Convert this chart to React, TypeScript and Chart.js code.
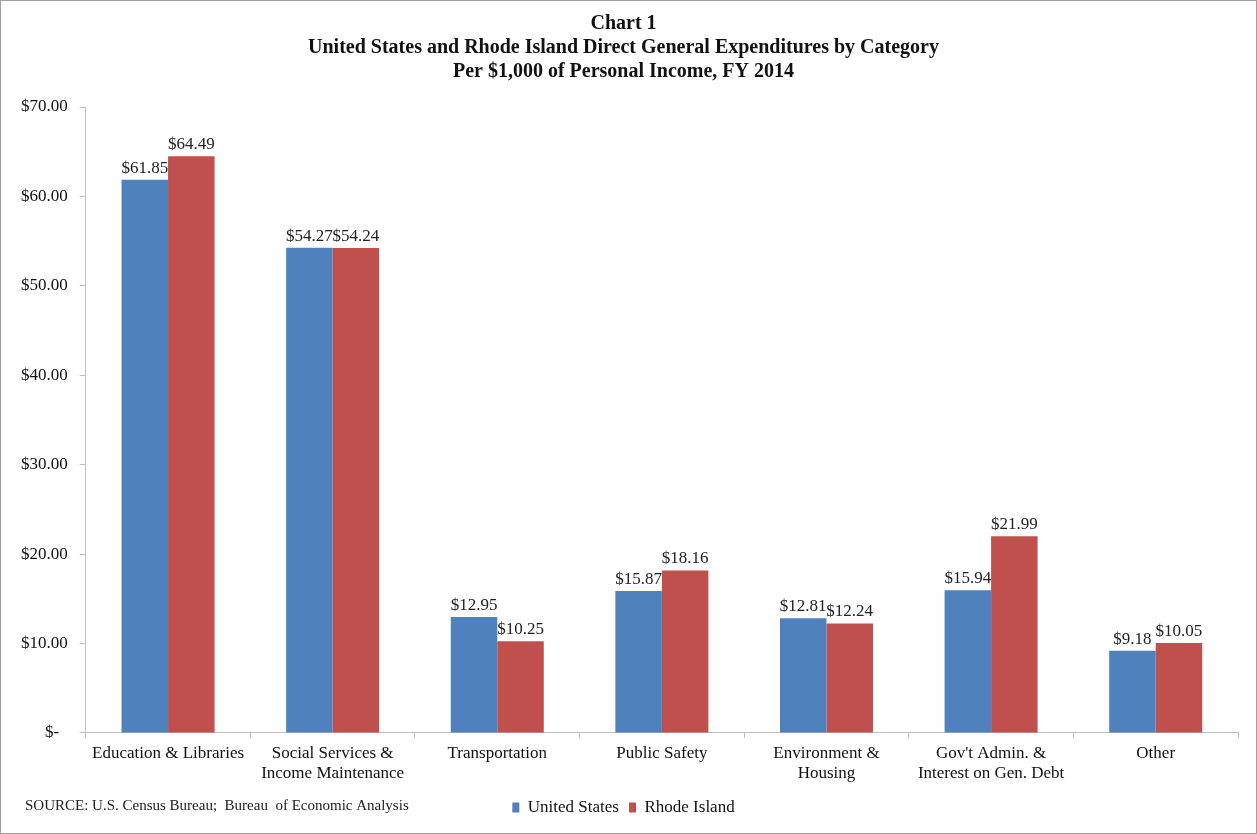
import { useEffect, useRef } from 'react';
import { Chart, registerables } from 'chart.js';

Chart.register(...registerables);

const CATEGORIES = [
  'Education & Libraries',
  ['Social Services &', 'Income Maintenance'],
  'Transportation',
  'Public Safety',
  ['Environment &', 'Housing'],
  ["Gov't Admin. &", 'Interest on Gen. Debt'],
  'Other',
];
const US_VALUES = [61.85, 54.27, 12.95, 15.87, 12.81, 15.94, 9.18];
const RI_VALUES = [64.49, 54.24, 10.25, 18.16, 12.24, 21.99, 10.05];
const TITLE = [
  'Chart 1',
  'United States and Rhode Island Direct General Expenditures by Category',
  'Per $1,000 of Personal Income, FY 2014',
];
const SOURCE = 'SOURCE: U.S. Census Bureau;  Bureau  of Economic Analysis';

const FONT = "'Liberation Serif', 'Times New Roman', serif";
const AXIS_GRAY = '#bfbfbf';

const money = (v: number) => (v === 0 ? '$-  ' : '$' + v.toFixed(2));

// value labels above bars + source note
const labelsPlugin = {
  id: 'barLabels',
  afterDatasetsDraw(chart: Chart) {
    const ctx = chart.ctx;
    ctx.save();
    ctx.font = `17px ${FONT}`;
    ctx.fillStyle = '#222';
    ctx.textAlign = 'center';
    ctx.textBaseline = 'bottom';
    chart.data.datasets.forEach((ds, i) => {
      chart.getDatasetMeta(i).data.forEach((bar: any, j) => {
        ctx.fillText(money(ds.data[j] as number), bar.x, bar.y - 3);
      });
    });
    ctx.textAlign = 'left';
    ctx.textBaseline = 'middle';
    ctx.font = `15px ${FONT}`;
    ctx.fillText(SOURCE, 24, 805);
    ctx.restore();
  },
};

export default function App() {
  const canvasRef = useRef<HTMLCanvasElement>(null);

  useEffect(() => {
    document.body.style.margin = '0';
    if (!canvasRef.current) return;
    const chart = new Chart(canvasRef.current, {
      type: 'bar',
      data: {
        labels: CATEGORIES,
        datasets: [
          { label: 'United States', data: US_VALUES, backgroundColor: '#4f81bd', categoryPercentage: 0.565, barPercentage: 1 },
          { label: 'Rhode Island', data: RI_VALUES, backgroundColor: '#c0504d', categoryPercentage: 0.565, barPercentage: 1 },
        ],
      },
      options: {
        responsive: false,
        animation: false,
        layout: { padding: { left: 8, right: 18, top: 7, bottom: 7 } },
        plugins: {
          title: {
            display: true,
            text: TITLE,
            color: '#111',
            font: { family: FONT, size: 20, weight: 'bold', lineHeight: 1.2 },
            padding: { top: 4, bottom: 23 },
          },
          legend: {
            position: 'bottom',
            labels: {
              color: '#111',
              font: { family: FONT, size: 17 },
              boxWidth: 7,
              boxHeight: 10,
              padding: 10,
            },
          },
          tooltip: { enabled: false },
        },
        scales: {
          x: {
            grid: { drawOnChartArea: false, drawTicks: true, tickLength: 5, color: AXIS_GRAY },
            border: { color: AXIS_GRAY },
            ticks: { color: '#111', font: { family: FONT, size: 17, lineHeight: 1.15 }, padding: 6, maxRotation: 0 },
          },
          y: {
            min: 0,
            max: 70,
            grid: { drawOnChartArea: false, drawTicks: true, tickLength: 6, color: AXIS_GRAY },
            border: { color: AXIS_GRAY },
            ticks: { stepSize: 10, color: '#111', font: { family: FONT, size: 17 }, padding: 12, callback: (v: any) => money(Number(v)) },
          },
        },
      },
      plugins: [labelsPlugin],
    });
    return () => chart.destroy();
  }, []);

  return (
    <div style={{ width: 1257, height: 834, border: '1px solid #a0a0a0', boxSizing: 'border-box', overflow: 'hidden', background: '#fff' }}>
      <canvas ref={canvasRef} width={1255} height={832} />
    </div>
  );
}
